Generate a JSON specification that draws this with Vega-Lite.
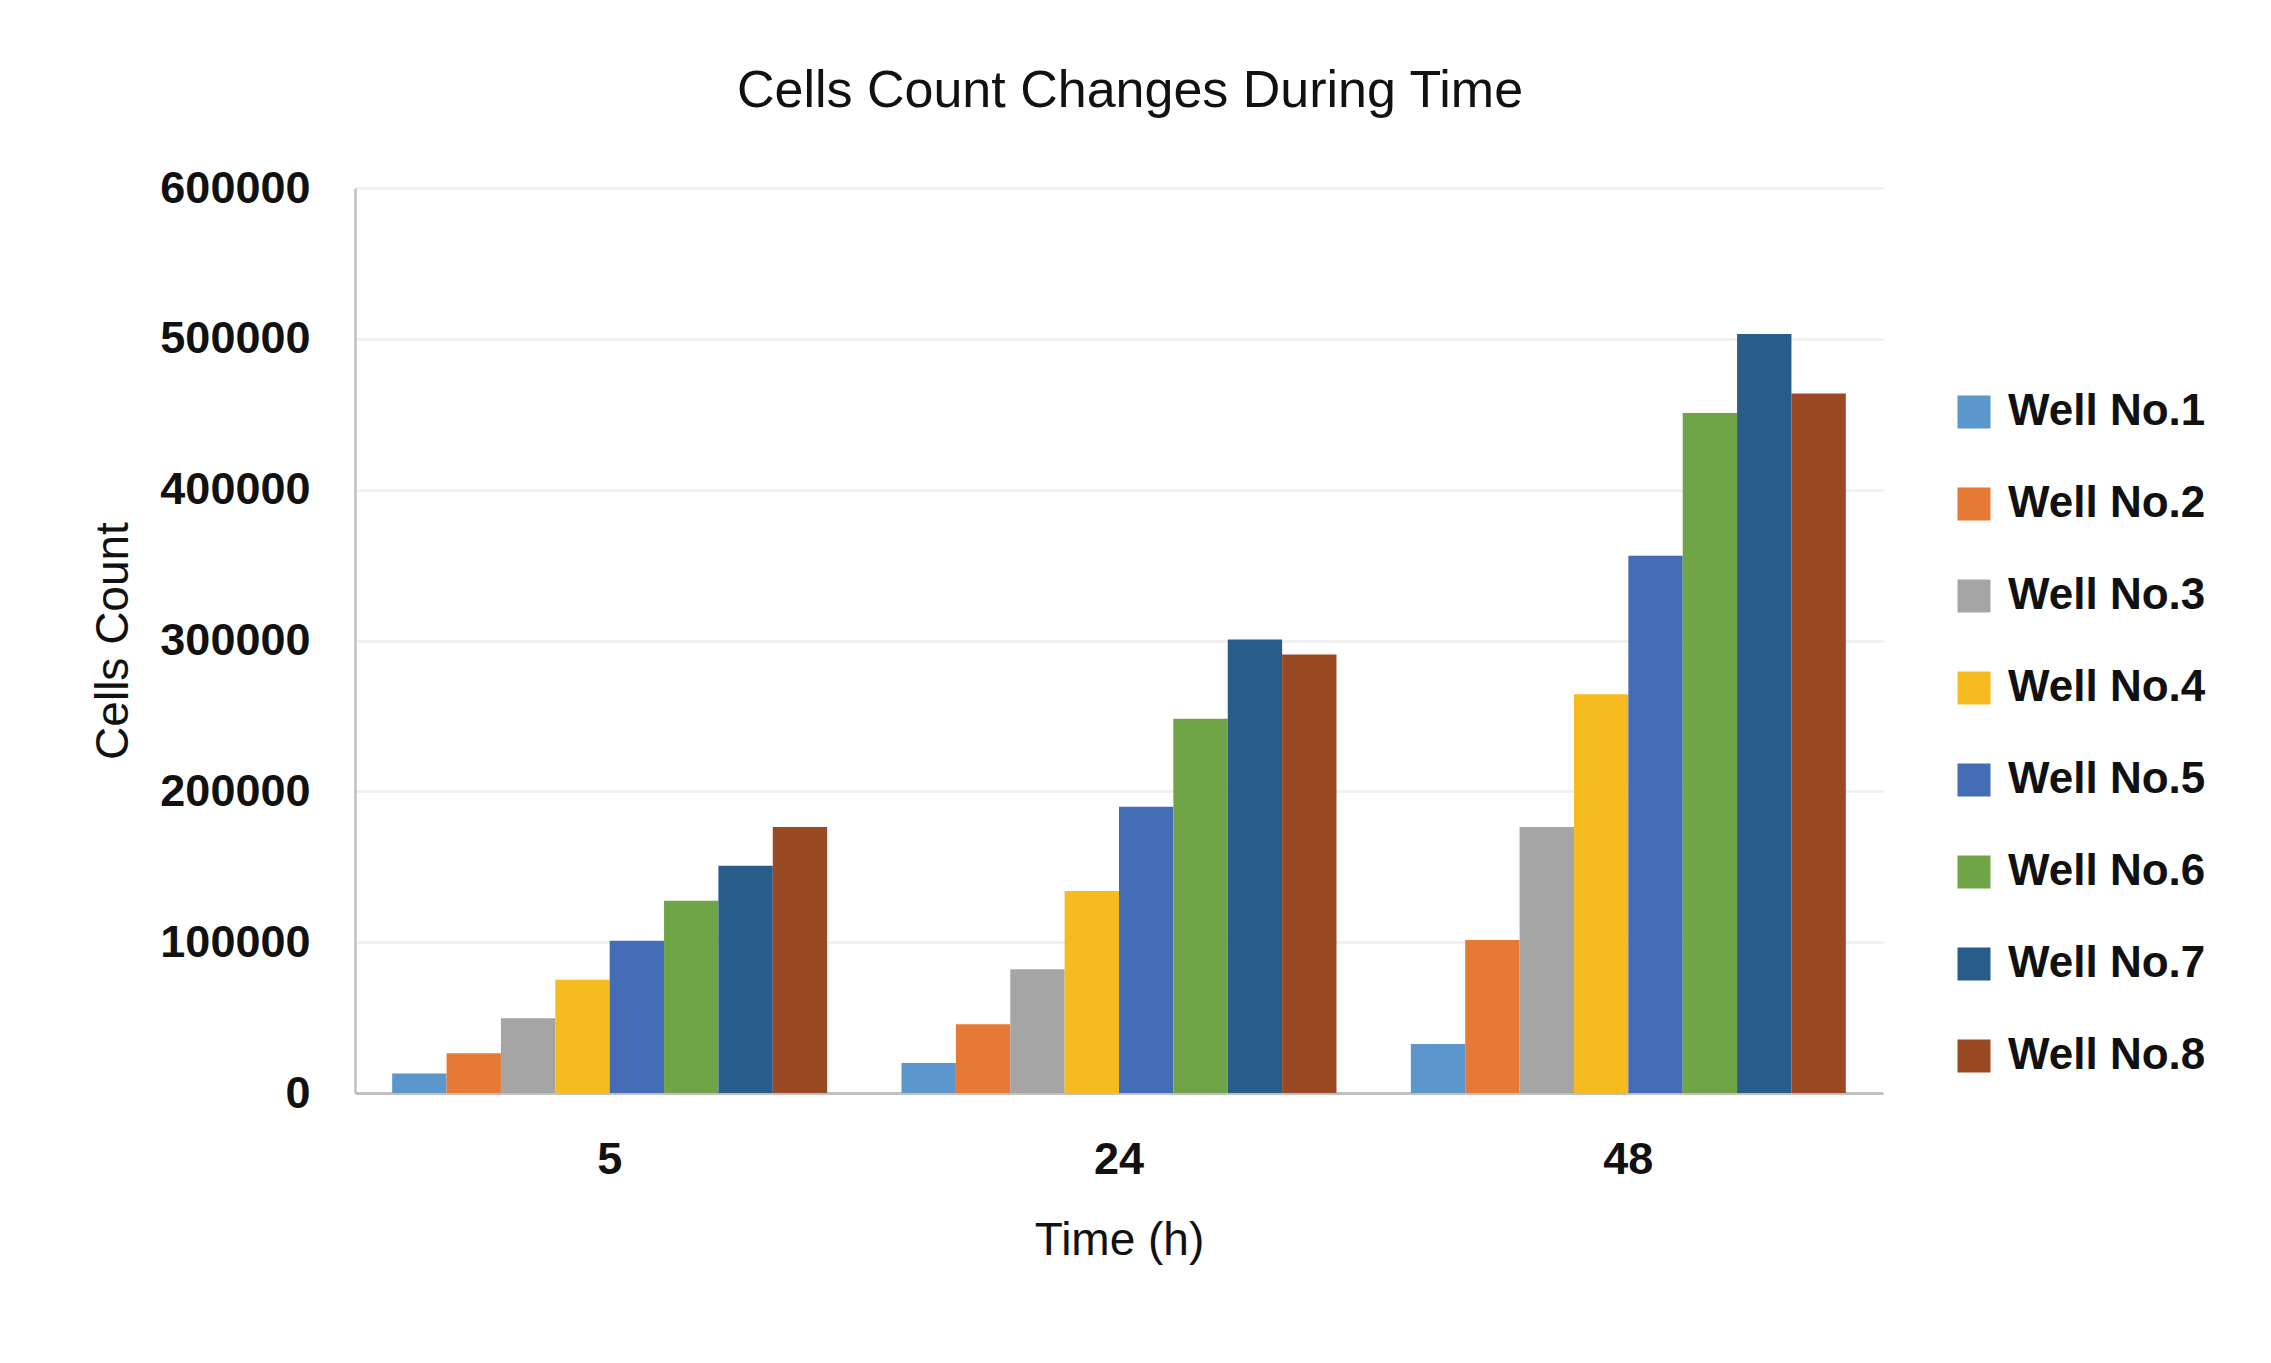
{
  "$schema": "https://vega.github.io/schema/vega-lite/v6.json",
  "autosize": {"type": "none"},
  "padding": {"left": 355, "top": 188, "right": 388, "bottom": 270},
  "width": 1528,
  "height": 905,
  "background": "white",
  "title": {
    "text": "Cells Count Changes During Time",
    "font": "Liberation Sans",
    "fontSize": 52,
    "fontWeight": "normal",
    "color": "#111111",
    "offset": 48,
    "dx": 11
  },
  "data": {
    "values": [
      {"time": "5", "well": "Well No.1", "count": 13000},
      {"time": "5", "well": "Well No.2", "count": 26400},
      {"time": "5", "well": "Well No.3", "count": 49600},
      {"time": "5", "well": "Well No.4", "count": 75100},
      {"time": "5", "well": "Well No.5", "count": 101000},
      {"time": "5", "well": "Well No.6", "count": 127500},
      {"time": "5", "well": "Well No.7", "count": 150700},
      {"time": "5", "well": "Well No.8", "count": 176300},
      {"time": "24", "well": "Well No.1", "count": 19900},
      {"time": "24", "well": "Well No.2", "count": 45500},
      {"time": "24", "well": "Well No.3", "count": 82000},
      {"time": "24", "well": "Well No.4", "count": 134000},
      {"time": "24", "well": "Well No.5", "count": 189700},
      {"time": "24", "well": "Well No.6", "count": 248200},
      {"time": "24", "well": "Well No.7", "count": 300600},
      {"time": "24", "well": "Well No.8", "count": 290800},
      {"time": "48", "well": "Well No.1", "count": 32500},
      {"time": "48", "well": "Well No.2", "count": 101500},
      {"time": "48", "well": "Well No.3", "count": 176300},
      {"time": "48", "well": "Well No.4", "count": 264400},
      {"time": "48", "well": "Well No.5", "count": 356200},
      {"time": "48", "well": "Well No.6", "count": 450900},
      {"time": "48", "well": "Well No.7", "count": 503200},
      {"time": "48", "well": "Well No.8", "count": 463800}
    ]
  },
  "mark": {"type": "bar"},
  "encoding": {
    "x": {
      "field": "time",
      "type": "nominal",
      "sort": ["5", "24", "48"],
      "scale": {"paddingInner": 0.146, "paddingOuter": 0.073},
      "axis": {
        "title": "Time (h)",
        "labelAngle": 0,
        "labelFont": "Liberation Sans",
        "labelFontSize": 45,
        "labelFontWeight": "bold",
        "labelColor": "#111111",
        "labelPadding": 44,
        "ticks": false,
        "tickSize": 0,
        "domainColor": "#c0c0c0",
        "domainWidth": 3,
        "titleFont": "Liberation Sans",
        "titleFontSize": 46,
        "titleFontWeight": "normal",
        "titleColor": "#111111",
        "titlePadding": 36
      }
    },
    "xOffset": {"field": "well", "type": "nominal", "scale": {"paddingInner": 0, "paddingOuter": 0}},
    "y": {
      "field": "count",
      "type": "quantitative",
      "scale": {"domain": [0, 600000], "nice": false},
      "axis": {
        "title": "Cells Count",
        "values": [0, 100000, 200000, 300000, 400000, 500000, 600000],
        "format": "d",
        "labelFont": "Liberation Sans",
        "labelFontSize": 45,
        "labelFontWeight": "bold",
        "labelColor": "#111111",
        "labelPadding": 45,
        "ticks": false,
        "tickSize": 0,
        "domainColor": "#c0c0c0",
        "domainWidth": 2.5,
        "grid": true,
        "gridColor": "#eeeeee",
        "gridWidth": 2.5,
        "titleFont": "Liberation Sans",
        "titleFontSize": 46,
        "titleFontWeight": "normal",
        "titleColor": "#111111",
        "titlePadding": 22
      }
    },
    "color": {
      "field": "well",
      "type": "nominal",
      "scale": {
        "domain": ["Well No.1", "Well No.2", "Well No.3", "Well No.4", "Well No.5", "Well No.6", "Well No.7", "Well No.8"],
        "range": ["#5B97CC", "#E47A36", "#A5A5A5", "#F5BB1F", "#446DB5", "#70A547", "#285C8B", "#9A4A22"]
      },
      "legend": {
        "title": null,
        "orient": "none",
        "legendX": 1597,
        "legendY": 202,
        "symbolType": "square",
        "symbolSize": 1089,
        "symbolStrokeWidth": 0,
        "labelFont": "Liberation Sans",
        "labelFontSize": 44,
        "labelFontWeight": "bold",
        "labelColor": "#111111",
        "labelOffset": 12,
        "rowPadding": 48,
        "labelLimit": 400
      }
    }
  },
  "config": {
    "view": {"stroke": null}
  }
}
